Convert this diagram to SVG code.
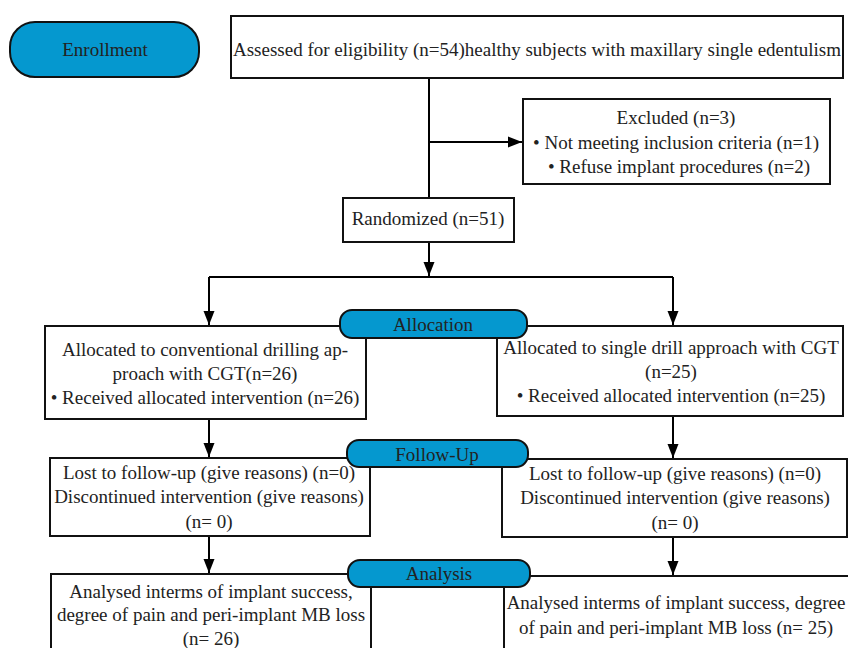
<svg xmlns="http://www.w3.org/2000/svg" width="848" height="648" viewBox="0 0 848 648">
<defs>
<marker id="ah" markerUnits="userSpaceOnUse" markerWidth="14" markerHeight="14" viewBox="0 0 14 14" refX="14" refY="7" orient="auto">
<path d="M0,1.5 L14,7 L0,12.5 Z" fill="#000"/>
</marker>
<style>
.box{fill:#fff;stroke:#111;stroke-width:2}
.pill{fill:#0598cf;stroke:#111;stroke-width:2}
.t{font-size:19px;fill:#222;text-anchor:middle}
.c{fill:none;stroke:#000;stroke-width:2}
</style>
</defs>
<rect width="848" height="648" fill="#fff"/>
<g id="connectors">
<path class="c" d="M429,78 V197"/>
<path class="c" d="M429,142 H522" marker-end="url(#ah)"/>
<path class="c" d="M429,242 V276" marker-end="url(#ah)"/>
<path class="c" d="M209,277 H673"/>
<path class="c" d="M209,277 V325" marker-end="url(#ah)"/>
<path class="c" d="M673,277 V325" marker-end="url(#ah)"/>
<path class="c" d="M209,419 V457" marker-end="url(#ah)"/>
<path class="c" d="M673,416 V458" marker-end="url(#ah)"/>
<path class="c" d="M209,536 V573" marker-end="url(#ah)"/>
<path class="c" d="M673,537 V575" marker-end="url(#ah)"/>
</g>
<g font-family="'Liberation Serif', 'DejaVu Serif', serif">
<g id="enrollment">
<rect class="pill" x="10" y="22" width="189" height="55" rx="25"/>
<text class="t" x="105" y="56">Enrollment</text>
</g>
<g id="assessed">
<rect class="box" x="231" y="16" width="612" height="62"/>
<text class="t" x="537" y="56">Assessed for eligibility (n=54)healthy subjects with maxillary single edentulism</text>
</g>
<g id="excluded">
<rect class="box" x="523" y="99" width="307" height="85"/>
<text class="t" x="676" y="124">Excluded (n=3)</text>
<text class="t" x="676" y="149">• Not meeting inclusion criteria (n=1)</text>
<text class="t" x="679" y="173">• Refuse implant procedures (n=2)</text>
</g>
<g id="randomized">
<rect class="box" x="343" y="198" width="171" height="44"/>
<text class="t" x="428" y="225">Randomized (n=51)</text>
</g>
<g id="alloc-left">
<rect class="box" x="45" y="326" width="321" height="93"/>
<text class="t" x="205" y="356">Allocated to conventional drilling ap-</text>
<text class="t" x="205" y="380">proach with CGT(n=26)</text>
<text class="t" x="205" y="404">• Received allocated intervention (n=26)</text>
</g>
<g id="alloc-right">
<rect class="box" x="497" y="326" width="346" height="90"/>
<text class="t" x="671" y="354">Allocated to single drill approach with CGT</text>
<text class="t" x="671" y="378">(n=25)</text>
<text class="t" x="671" y="402">• Received allocated intervention (n=25)</text>
</g>
<g id="allocation">
<rect class="pill" x="340" y="310" width="187" height="28" rx="12"/>
<text class="t" x="433" y="331">Allocation</text>
</g>
<g id="followup-left">
<rect class="box" x="50" y="458" width="320" height="78"/>
<text class="t" x="209" y="479">Lost to follow-up (give reasons) (n=0)</text>
<text class="t" x="209" y="503">Discontinued intervention (give reasons)</text>
<text class="t" x="209" y="528">(n= 0)</text>
</g>
<g id="followup-right">
<rect class="box" x="502" y="459" width="345" height="78"/>
<text class="t" x="675" y="480">Lost to follow-up (give reasons) (n=0)</text>
<text class="t" x="675" y="504">Discontinued intervention (give reasons)</text>
<text class="t" x="675" y="529">(n= 0)</text>
</g>
<g id="followup">
<rect class="pill" x="347" y="440" width="181" height="27" rx="12"/>
<text class="t" x="437" y="461">Follow-Up</text>
</g>
<g id="analysis-left">
<rect class="box" x="51" y="574" width="320" height="90"/>
<text class="t" x="211" y="598">Analysed interms of implant success,</text>
<text class="t" x="211" y="621">degree of pain and peri-implant MB loss</text>
<text class="t" x="211" y="645">(n= 26)</text>
</g>
<g id="analysis-right">
<rect class="box" x="504" y="576" width="360" height="90"/>
<text class="t" x="676" y="609">Analysed interms of implant success, degree</text>
<text class="t" x="676" y="634">of pain and peri-implant MB loss (n= 25)</text>
</g>
<g id="analysis">
<rect class="pill" x="348" y="560" width="182" height="27" rx="12"/>
<text class="t" x="439" y="580">Analysis</text>
</g>
</g>
</svg>
